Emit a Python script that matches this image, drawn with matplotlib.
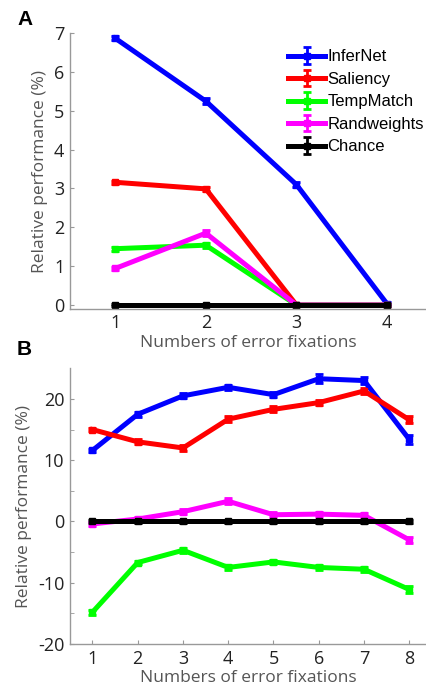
import matplotlib.pyplot as plt
import numpy as np

plt.rcParams['font.family'] = ['Open Sans', 'DejaVu Sans']

names = ["InferNet", "Saliency", "TempMatch", "Randweights", "Chance"]
colors = ["#0000ff", "#ff0000", "#00ff00", "#ff00ff", "#000000"]

# panel A: 1-4 error fixations
xa = np.array([1, 2, 3, 4])
ya = {
    "InferNet": [6.87, 5.25, 3.10, 0.03],
    "Saliency": [3.16, 2.99, 0.0, 0.0],
    "TempMatch": [1.45, 1.54, 0.0, 0.0],
    "Randweights": [0.94, 1.85, 0.0, 0.0],
    "Chance": [0.0, 0.0, 0.0, 0.0],
}
ea = {
    "InferNet": [0.05, 0.08, 0.07, 0.04],
    "Saliency": [0.04, 0.06, 0.03, 0.02],
    "TempMatch": [0.05, 0.06, 0.03, 0.02],
    "Randweights": [0.05, 0.07, 0.03, 0.02],
    "Chance": [0.03, 0.03, 0.03, 0.03],
}

# panel B: 1-8 error fixations
xb = np.arange(1, 9)
yb = {
    "InferNet": [11.6, 17.5, 20.5, 21.9, 20.7, 23.3, 23.0, 13.4],
    "Saliency": [15.0, 13.0, 12.0, 16.7, 18.3, 19.4, 21.3, 16.6],
    "TempMatch": [-14.8, -6.7, -4.7, -7.5, -6.6, -7.5, -7.8, -11.1],
    "Randweights": [-0.4, 0.4, 1.6, 3.3, 1.1, 1.2, 1.0, -3.0],
    "Chance": [0, 0, 0, 0, 0, 0, 0, 0],
}
eb = {
    "InferNet": [0.3, 0.4, 0.4, 0.4, 0.4, 0.7, 0.6, 0.7],
    "Saliency": [0.3, 0.4, 0.5, 0.5, 0.5, 0.4, 0.5, 0.6],
    "TempMatch": [0.4, 0.3, 0.4, 0.4, 0.3, 0.4, 0.4, 0.5],
    "Randweights": [0.3, 0.3, 0.4, 0.5, 0.4, 0.4, 0.4, 0.5],
    "Chance": [0.3, 0.3, 0.3, 0.3, 0.3, 0.3, 0.3, 0.3],
}

fig = plt.figure(figsize=(4.26, 6.91), dpi=100)
axA = fig.add_axes([0.164, 0.553, 0.836, 0.399])
axB = fig.add_axes([0.164, 0.068, 0.836, 0.399])


def style(ax):
    for s in ["top", "right"]:
        ax.spines[s].set_visible(False)
    for s in ["left", "bottom"]:
        ax.spines[s].set_color("#999999")
        ax.spines[s].set_linewidth(1.0)
    ax.tick_params(direction="in", length=3, color="#999999", labelsize=13,
                   labelcolor="#222222", pad=4)
    ax.set_ylabel("Relative performance (%)", fontsize=12.5, color="#555555")
    ax.set_xlabel("Numbers of error fixations", fontsize=12.5, color="#555555",
                  labelpad=2)


handles = []
for name, c in zip(names, colors):
    h = axA.errorbar(xa, ya[name], yerr=ea[name], color=c, lw=3.6, marker="s",
                     ms=4, capsize=3, capthick=2, elinewidth=2, label=name,
                     clip_on=False)
    handles.append(h)
    axB.errorbar(xb, yb[name], yerr=eb[name], color=c, lw=3.6, marker="s",
                 ms=4, capsize=3, capthick=2, elinewidth=2, clip_on=False)

style(axA)
axA.set_xlim(0.5, 4.43)
axA.set_ylim(-0.1, 7)
axA.set_xticks(xa)
axA.set_yticks(range(0, 8))

style(axB)
axB.set_xlim(0.5, 8.37)
axB.set_ylim(-20, 25)
axB.set_xticks(xb)
axB.set_yticks([-20, -10, 0, 10, 20])
axB.set_yticks([-15, -5, 5, 15], minor=True)
axB.tick_params(which="minor", direction="in", length=3, color="#999999")
axB.set_yticklabels(["-20", "-10", "0", "10", "20"])

leg = axA.legend(handles=handles, loc="upper left", bbox_to_anchor=(0.595, 0.965),
                 frameon=False, prop={"family": "Liberation Sans", "size": 12},
                 handlelength=2.2, handletextpad=0.15, labelspacing=0.45,
                 borderaxespad=0)

fig.text(0.04, 0.985, "A", fontsize=15, fontweight="bold",
         family="Liberation Sans", va="top")
fig.text(0.04, 0.508, "B", fontsize=15, fontweight="bold",
         family="Liberation Sans", va="top")

fig.savefig("out.png", dpi=100)
